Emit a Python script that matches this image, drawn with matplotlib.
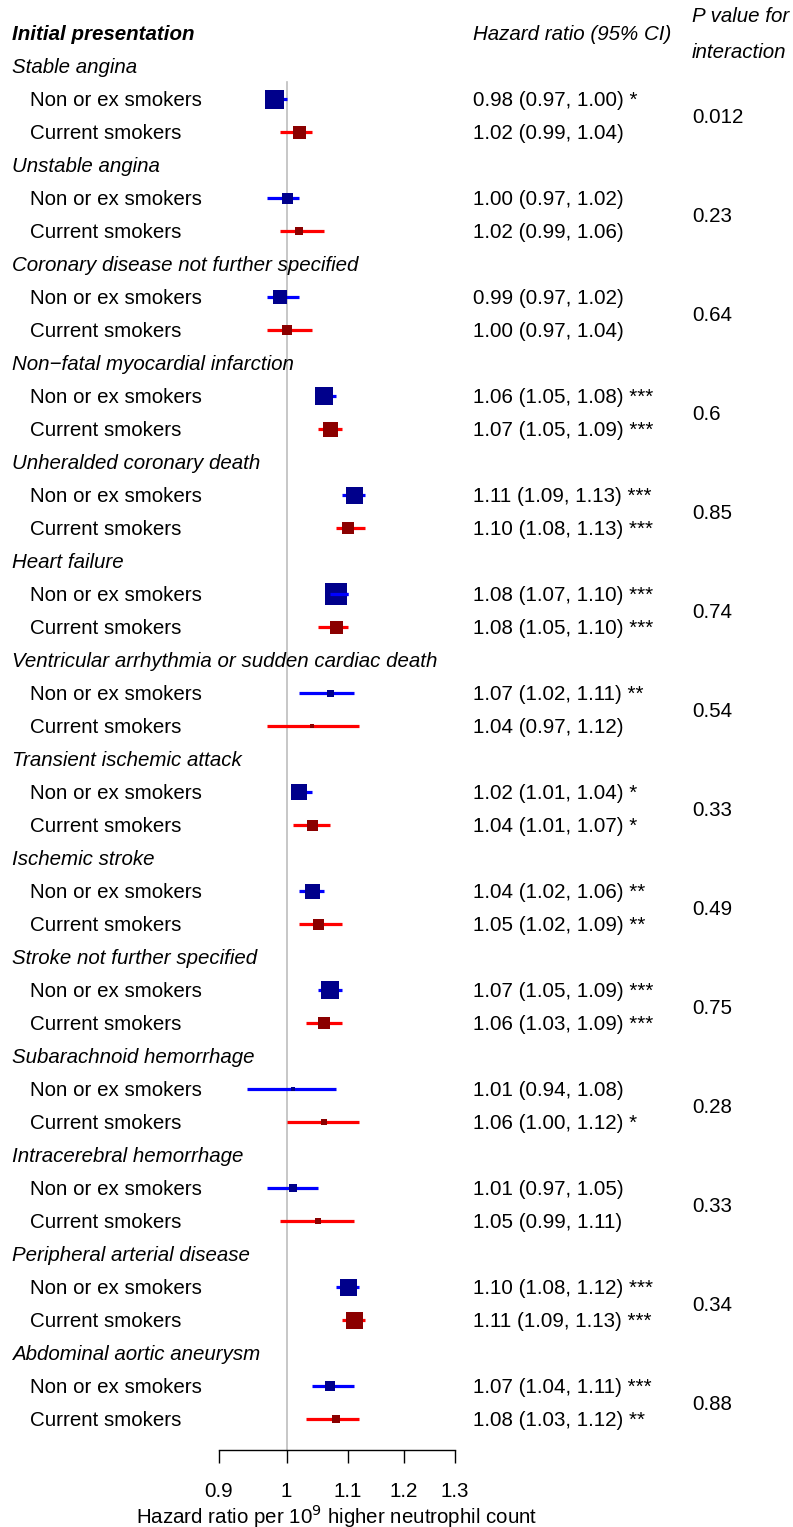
''' Forest plot: neutrophil count and initial presentation of CVD, by smoking status. '''
import numpy as np
import matplotlib
matplotlib.use('Agg')
import matplotlib.pyplot as plt
import matplotlib.transforms as mtransforms

plt.rcParams['font.family'] = ['Liberation Sans', 'DejaVu Sans']
FS = 14.8
VA = 'center_baseline'

groups = [
    'Stable angina', 'Unstable angina', 'Coronary disease not further specified',
    'Non\u2212fatal myocardial infarction', 'Unheralded coronary death', 'Heart failure',
    'Ventricular arrhythmia or sudden cardiac death', 'Transient ischemic attack',
    'Ischemic stroke', 'Stroke not further specified', 'Subarachnoid hemorrhage',
    'Intracerebral hemorrhage', 'Peripheral arterial disease', 'Abdominal aortic aneurysm',
]
subgroups = ['Non or ex smokers', 'Current smokers']

non_hr = [0.98, 1.00, 0.99, 1.06, 1.11, 1.08, 1.07, 1.02, 1.04, 1.07, 1.01, 1.01, 1.10, 1.07]
non_lo = [0.97, 0.97, 0.97, 1.05, 1.09, 1.07, 1.02, 1.01, 1.02, 1.05, 0.94, 0.97, 1.08, 1.04]
non_hi = [1.00, 1.02, 1.02, 1.08, 1.13, 1.10, 1.11, 1.04, 1.06, 1.09, 1.08, 1.05, 1.12, 1.11]
non_stars = ['*', '', '', '***', '***', '***', '**', '*', '**', '***', '', '', '***', '***']

cur_hr = [1.02, 1.02, 1.00, 1.07, 1.10, 1.08, 1.04, 1.04, 1.05, 1.06, 1.06, 1.05, 1.11, 1.08]
cur_lo = [0.99, 0.99, 0.97, 1.05, 1.08, 1.05, 0.97, 1.01, 1.02, 1.03, 1.00, 0.99, 1.09, 1.03]
cur_hi = [1.04, 1.06, 1.04, 1.09, 1.13, 1.10, 1.12, 1.07, 1.09, 1.09, 1.12, 1.11, 1.13, 1.12]
cur_stars = ['', '', '', '***', '***', '***', '', '*', '**', '***', '*', '', '***', '**']

p_interaction = ['0.012', '0.23', '0.64', '0.6', '0.85', '0.74', '0.54', '0.33',
                 '0.49', '0.75', '0.28', '0.33', '0.34', '0.88']

# box sizes (precision weights), in pixels
non_box = [19, 11, 14, 18, 17, 23, 7, 16, 15, 18, 5, 8, 17, 10]
cur_box = [13, 8, 10, 15, 12, 13, 5, 11, 11, 12, 6, 6, 17, 8]

xticks = [0.9, 1, 1.1, 1.2, 1.3]

W, H = 793, 1527
fig = plt.figure(figsize=(W / 100, H / 100), dpi=100)
ax = fig.add_axes([219 / W, (H - 1450) / H, (455 - 219) / W, 1450 / H])
ax.set_xscale('log')
ax.set_xlim(0.9, 1.3)
ax.set_ylim(42.94, -1)
for s in ['top', 'left', 'right']:
    ax.spines[s].set_visible(False)
ax.spines['bottom'].set_linewidth(1.0)
ax.set_yticks([])
ax.set_xticks(xticks)
ax.set_xticklabels(['0.9', '1', '1.1', '1.2', '1.3'])
ax.xaxis.set_minor_locator(matplotlib.ticker.NullLocator())
ax.tick_params(axis='x', direction='out', length=9.4, width=1.0, pad=13.5, labelsize=FS)
ax.set_xlabel('Hazard ratio per 10$^9$ higher neutrophil count', fontsize=FS, labelpad=1)

ax.plot([1, 1], [1.5, 42.94], color='#BEBEBE', lw=1.2, zorder=1, clip_on=False)

px_per_log = (455 - 219) / (np.log(1.3) - np.log(0.9))
tr = mtransforms.blended_transform_factory(fig.transFigure, ax.transData)

fig.text(12 / W, 1 - 33 / H, 'Initial presentation', fontsize=FS, fontweight='bold',
         style='italic', va=VA)
fig.text(473 / W, 1 - 33 / H, 'Hazard ratio (95% CI)', fontsize=FS, style='italic', va=VA)
fig.text(692 / W, 1 - 15 / H, 'P value for', fontsize=FS, style='italic', va=VA)
fig.text(692 / W, 1 - 51 / H, 'interaction', fontsize=FS, style='italic', va=VA)

series = [
    (non_hr, non_lo, non_hi, non_stars, non_box, 'blue', '#00008B'),
    (cur_hr, cur_lo, cur_hi, cur_stars, cur_box, 'red', '#8B0000'),
]

for g, name in enumerate(groups):
    row = 1 + 3 * g
    ax.text(12 / W, row, name, transform=tr, fontsize=FS, style='italic', va=VA)
    for k, (hr, lo, hi, stars, box, lc, mc) in enumerate(series):
        y = row + 1 + k
        ax.text(30 / W, y, subgroups[k], transform=tr, fontsize=FS, va=VA)
        label = f'{hr[g]:.2f} ({lo[g]:.2f}, {hi[g]:.2f})'
        if stars[g]:
            label += ' ' + stars[g]
        ax.text(473 / W, y, label, transform=tr, fontsize=FS, va=VA)
        ci_px = px_per_log * (np.log(hi[g]) - np.log(lo[g]))
        ax.plot([lo[g], hi[g]], [y, y], color=lc, lw=2.3, solid_capstyle='butt', zorder=2)
        ax.plot([hr[g]], [y], marker='s', ms=box[g] * 0.72, color=mc, mec=mc,
                mew=0, zorder=3)
        if ci_px < box[g]:
            ax.plot([lo[g], hi[g]], [y, y], color=lc, lw=2.3, solid_capstyle='butt', zorder=4)
    ax.text(692 / W, row + 1.5, p_interaction[g], transform=tr, fontsize=FS, va=VA)

fig.savefig('out.png', dpi=100)
